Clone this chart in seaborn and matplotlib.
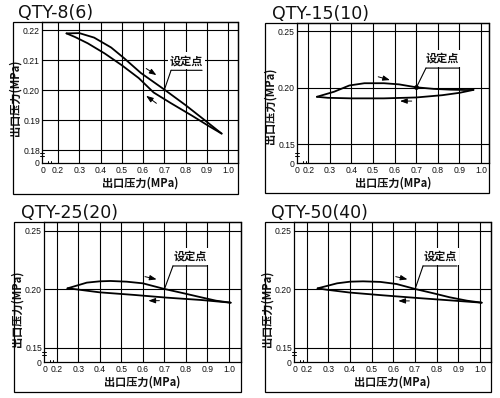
import matplotlib
matplotlib.use("Agg")
import matplotlib.pyplot as plt
import seaborn as sns
import pandas as pd
from matplotlib.patches import Rectangle

# ---------------- data ----------------
titles = ["QTY-8(6)", "QTY-15(10)", "QTY-25(20)", "QTY-50(40)"]
axis_label = "出口压力(MPa)"
set_label = "设定点"

x_ticks = [0.2, 0.3, 0.4, 0.5, 0.6, 0.7, 0.8, 0.9, 1.0]
x_tick_labels = ["0.2", "0.3", "0.4", "0.5", "0.6", "0.7", "0.8", "0.9", "1.0"]
p1_y_ticks = [0.18, 0.19, 0.20, 0.21, 0.22]
p1_y_tick_labels = ["0.18", "0.19", "0.20", "0.21", "0.22"]
y_ticks = [0.15, 0.20, 0.25]
y_tick_labels = ["0.15", "0.20", "0.25"]
set_point = (0.70, 0.20)

# QTY-8(6)
p1_up_x = [0.24, 0.30, 0.37, 0.45, 0.51, 0.59, 0.70, 0.80, 0.89, 0.97]
p1_up_y = [0.2189, 0.2190, 0.2175, 0.2142, 0.2107, 0.2057, 0.2002, 0.1950, 0.1900, 0.1855]
p1_dn_x = [0.97, 0.91, 0.83, 0.73, 0.65, 0.58, 0.50, 0.42, 0.34, 0.28, 0.24]
p1_dn_y = [0.1855, 0.1880, 0.1915, 0.1957, 0.1992, 0.2040, 0.2083, 0.2122, 0.2156, 0.2177, 0.2189]
# QTY-15(10)
p2_up_x = [0.24, 0.32, 0.39, 0.46, 0.55, 0.62, 0.70, 0.78, 0.86, 0.93, 0.965]
p2_up_y = [0.1920, 0.1965, 0.2020, 0.2040, 0.2040, 0.2030, 0.2004, 0.1990, 0.1983, 0.1980, 0.1981]
p2_dn_x = [0.965, 0.90, 0.82, 0.70, 0.55, 0.40, 0.29, 0.24]
p2_dn_y = [0.1981, 0.1955, 0.1934, 0.1914, 0.1906, 0.1906, 0.1911, 0.1920]
# QTY-25(20)
p3_up_x = [0.25, 0.34, 0.40, 0.45, 0.525, 0.60, 0.70, 0.79, 0.87, 0.94, 1.008]
p3_up_y = [0.2008, 0.2057, 0.2068, 0.2071, 0.2065, 0.2051, 0.2003, 0.1966, 0.1932, 0.1903, 0.1886]
p3_dn_x = [1.008, 0.87, 0.71, 0.56, 0.40, 0.29, 0.25]
p3_dn_y = [0.1886, 0.1909, 0.1929, 0.1952, 0.1974, 0.2000, 0.2008]
# QTY-50(40)
p4_up_x = [0.25, 0.34, 0.40, 0.46, 0.54, 0.615, 0.70, 0.785, 0.86, 0.94, 1.008]
p4_up_y = [0.2008, 0.2051, 0.2065, 0.2068, 0.2063, 0.2045, 0.2003, 0.1966, 0.1932, 0.1903, 0.1886]
p4_dn_x = [1.008, 0.86, 0.71, 0.55, 0.40, 0.29, 0.25]
p4_dn_y = [0.1886, 0.1906, 0.1926, 0.1949, 0.1972, 0.1997, 0.2008]

# ---------------- layout (pixels) ----------------
W, H = 500, 398
sns.set_theme(style="white")
plt.rcParams["font.family"] = ["DejaVu Sans", "Noto Sans CJK SC"]
cjk = ["Noto Sans CJK SC", "DejaVu Sans"]
tickfont = ["Liberation Sans", "DejaVu Sans"]

fig = plt.figure(figsize=(W / 100, H / 100), dpi=100)
fig.patch.set_facecolor("white")

panels = [
    dict(title=titles[0], tpos=(18, 13), box=(13, 22, 238, 194), ax=(42, 22, 238, 163),
         xlim=(0.1247, 1.047), ylim=(0.1757, 0.2227), x0=0.13,
         yt=p1_y_ticks, ytl=p1_y_tick_labels,
         up=(p1_up_x, p1_up_y), dn=(p1_dn_x, p1_dn_y),
         ylab=(-20.0, 0.46),
         txt=(0.732, 0.878, 0.2066),
         arr_up=((0.615, 0.2072), (0.663, 0.2050)), arr_dn=((0.663, 0.1956), (0.615, 0.1981)),
         dot=False),
    dict(title=titles[1], tpos=(272, 14), box=(265, 23, 489, 193), ax=(297, 23, 489, 163),
         xlim=(0.1477, 1.037), ylim=(0.1334, 0.2573), x0=0.15,
         yt=y_ticks, ytl=y_tick_labels,
         up=(p2_up_x, p2_up_y), dn=(p2_dn_x, p2_dn_y),
         ylab=(-20.0, 0.41),
         txt=(0.745, 0.898, 0.2174),
         arr_up=((0.524, 0.2097), (0.578, 0.2068)), arr_dn=((0.679, 0.1882), (0.625, 0.1882)),
         dot=True),
    dict(title=titles[2], tpos=(21, 213), box=(14, 222, 241, 392), ax=(44, 222, 241, 362),
         xlim=(0.141, 1.056), ylim=(0.1380, 0.2574), x0=0.145,
         yt=y_ticks, ytl=y_tick_labels,
         up=(p3_up_x, p3_up_y), dn=(p3_dn_x, p3_dn_y),
         ylab=(-20.0, 0.38),
         txt=(0.740, 0.898, 0.2199),
         arr_up=((0.610, 0.2108), (0.664, 0.2085)), arr_dn=((0.677, 0.1903), (0.626, 0.1903)),
         dot=False),
    dict(title=titles[3], tpos=(271, 213), box=(265, 222, 491, 392), ax=(294, 222, 491, 362),
         xlim=(0.141, 1.051), ylim=(0.1380, 0.2574), x0=0.145,
         yt=y_ticks, ytl=y_tick_labels,
         up=(p4_up_x, p4_up_y), dn=(p4_dn_x, p4_dn_y),
         ylab=(-20.0, 0.38),
         txt=(0.737, 0.894, 0.2199),
         arr_up=((0.611, 0.2108), (0.665, 0.2085)), arr_dn=((0.674, 0.1901), (0.623, 0.1901)),
         dot=False),
]

for p in panels:
    l, t, r, b = p["ax"]
    wpx, hpx = r - l, b - t
    ax = fig.add_axes([l / W, 1 - b / H, wpx / W, hpx / H])
    ax.set_facecolor("white")

    for key in ("up", "dn"):
        xs, ys = p[key]
        df = pd.DataFrame({"x": xs, "y": ys})
        sns.lineplot(data=df, x="x", y="y", sort=False, estimator=None,
                     color="black", linewidth=1.3, ax=ax, zorder=4)

    ax.set_xlim(*p["xlim"])
    ax.set_ylim(*p["ylim"])
    ax.set_xticks(x_ticks)
    ax.set_xticklabels(x_tick_labels)
    ax.set_xticks([p["x0"]], minor=True)
    ax.set_xticklabels(["0"], minor=True)
    ax.set_yticks(p["yt"])
    ax.set_yticklabels(p["ytl"])
    ax.set_yticks([p["ylim"][0]], minor=True)
    ax.set_yticklabels(["0"], minor=True)
    ax.tick_params(which="both", length=0, labelsize=6.2, colors="#111111")
    ax.tick_params(axis="x", which="both", pad=2.2)
    ax.tick_params(axis="y", which="both", pad=1.5)
    for lab in ax.get_xticklabels(which="both") + ax.get_yticklabels(which="both"):
        lab.set_family(tickfont)
    ax.grid(True, which="major", color="black", linewidth=0.8)
    ax.set_axisbelow(True)
    for s in ax.spines.values():
        s.set_color("black")
        s.set_linewidth(0.9)

    ax.set_xlabel(axis_label, family=cjk, fontsize=8, fontweight="bold", color="#111111")
    ax.xaxis.set_label_coords(0.5, -14.0 / hpx)
    ax.set_ylabel(axis_label, family=cjk, fontsize=8, fontweight="bold", color="#111111")
    ax.yaxis.set_label_coords(p["ylab"][0] / wpx, p["ylab"][1])

    # axis break marks
    for off in (-1.3, 1.3):
        ax.plot([-2.2 / wpx, 2.2 / wpx], [(8.5 + off) / hpx] * 2, transform=ax.transAxes,
                color="black", lw=0.7, clip_on=False, zorder=6)
        ax.plot([(7.5 + off) / wpx] * 2, [0, 2.5 / hpx], transform=ax.transAxes,
                color="black", lw=0.7, clip_on=False, zorder=6)

    # direction arrows
    for tail, head in (p["arr_up"], p["arr_dn"]):
        ax.annotate("", xy=head, xytext=tail,
                    arrowprops=dict(arrowstyle="-|>,head_length=0.35,head_width=0.13",
                                    color="black", lw=0.7, shrinkA=0, shrinkB=0))

    # set point annotation
    x1, x2, yy = p["txt"]
    ax.annotate("", xy=set_point, xytext=(x1, yy),
                arrowprops=dict(arrowstyle="-", color="black", lw=0.8, shrinkA=0, shrinkB=0))
    ax.annotate("", xy=(x2, yy), xytext=(x1, yy),
                arrowprops=dict(arrowstyle="-", color="black", lw=0.8, shrinkA=0, shrinkB=0))
    ax.annotate(set_label, xy=((x1 + x2) / 2, yy), xytext=(0, 2.2), textcoords="offset points",
                ha="center", va="bottom", family=cjk, fontsize=8, fontweight="bold",
                color="#111111", zorder=5,
                bbox=dict(boxstyle="square,pad=0.2", fc="white", ec="none"))
    if p["dot"]:
        ax.scatter([set_point[0]], [0.2004], s=6, color="black", zorder=5)

    # outer frame and title
    bl, bt, br, bb = p["box"]
    fig.add_artist(Rectangle((bl / W, 1 - bb / H), (br - bl) / W, (bb - bt) / H,
                             transform=fig.transFigure, fill=False, ec="black", lw=0.9))
    fig.text(p["tpos"][0] / W, 1 - p["tpos"][1] / H, p["title"], ha="left", va="center",
             fontsize=12.5, color="#111111")

fig.savefig("out.png", dpi=100, facecolor="white")
